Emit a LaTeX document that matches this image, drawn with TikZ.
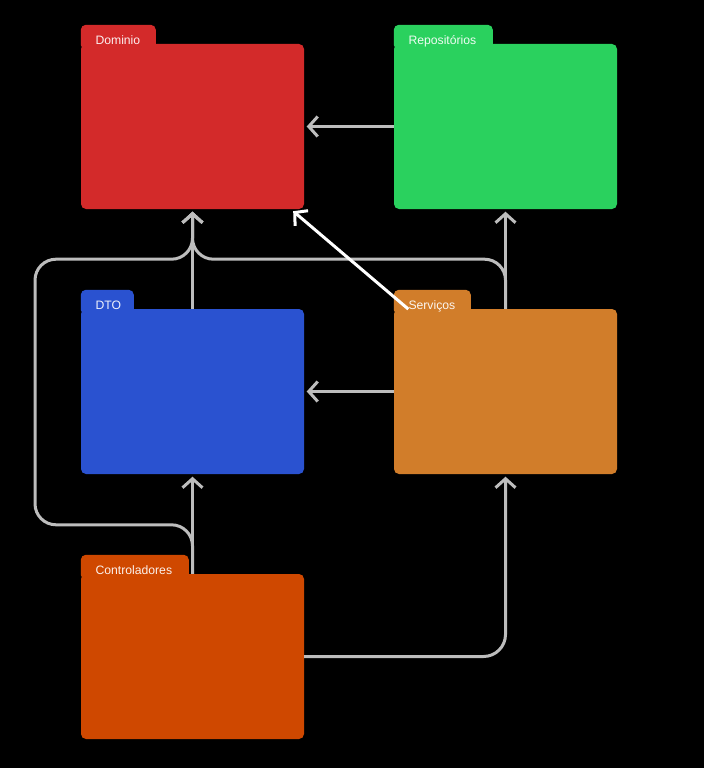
\documentclass[tikz,border=0pt]{standalone}
\usepackage{fontspec}
\setmainfont{Liberation Sans}
\usetikzlibrary{arrows.meta}
\definecolor{cdom}{HTML}{D32A2A}
\definecolor{crep}{HTML}{2AD15E}
\definecolor{cdto}{HTML}{2A52D0}
\definecolor{csrv}{HTML}{D17D2A}
\definecolor{cctl}{HTML}{CF4800}
\definecolor{cline}{HTML}{BDBDBD}
% folder tab above the body node #1, #2 wide, filled with #3
\newcommand{\foldertab}[3]{%
  \fill[#3,rounded corners=5pt]
    ([shift={(0,6)}]#1.north west) -- ([shift={(0,-19)}]#1.north west)
    -- ([shift={(#2,-19)}]#1.north west) -- ([shift={(#2,6)}]#1.north west) -- cycle;}
\begin{document}
\begin{tikzpicture}[x=1pt,y=-1pt,
  folder/.style={minimum width=223pt,minimum height=165pt,inner sep=0pt,rounded corners=5pt},
  lbl/.style={text=white,text opacity=0.92,font=\fontsize{12.2}{14}\selectfont,inner sep=0pt,anchor=base west},
  conn/.style={draw=cline,line width=3pt,-{Straight Barb[length=9pt,width=20pt]},shorten >=2.5pt},
  wconn/.style={draw=white,line width=3pt,-{Straight Barb[length=9pt,width=20pt]}}]
\fill[black] (0,0) rectangle (704,768);
\useasboundingbox (0,0) rectangle (704,768);

% folders
\node[folder,fill=cdom] (dom) at (192.5,126.5) {};
\node[folder,fill=crep] (rep) at (505.5,126.5) {};
\node[folder,fill=cdto] (dto) at (192.5,391.5) {};
\node[folder,fill=csrv] (srv) at (505.5,391.5) {};
\node[folder,fill=cctl] (ctl) at (192.5,656.5) {};
\foldertab{dom}{75}{cdom}
\foldertab{rep}{99}{crep}
\foldertab{dto}{53}{cdto}
\foldertab{srv}{77}{csrv}
\foldertab{ctl}{108}{cctl}
\node[lbl] (domlbl) at ([shift={(14.5,0.3)}]dom.north west) {Dominio};
\node[lbl] (replbl) at ([shift={(14.5,0.3)}]rep.north west) {Repositórios};
\node[lbl] (dtolbl) at ([shift={(14.5,0.3)}]dto.north west) {DTO};
\node[lbl] (srvlbl) at ([shift={(14.5,0.3)}]srv.north west) {Serviços};
\node[lbl] (ctllbl) at ([shift={(14.5,0.3)}]ctl.north west) {Controladores};

% routing points
\coordinate (jdom) at ([shift={(0,50)}]dom.south);
\coordinate (jctl) at ([shift={(0,-49)}]ctl.north);
\coordinate (lft) at (35,0);

% dependencies
\draw[conn] (rep.west) -- (dom.east);
\draw[conn] (srv.west) -- (dto.east);
\draw[conn] (dto.north) -- (dom.south);
\draw[conn] (srv.north) -- (rep.south);
\draw[conn,rounded corners=21pt] (srv.north) |- (jdom) -- (dom.south);
\draw[conn,rounded corners=21pt] (ctl.north) -- (jctl) -- (jctl -| lft) -- (jdom -| lft) -- (jdom) -- (dom.south);
\draw[conn] (ctl.north) -- (dto.south);
\draw[conn,rounded corners=22pt] (ctl.east) -| (srv.south);
\draw[wconn] (srvlbl.base west) -- ([shift={(-11,2)}]dom.south east);
\end{tikzpicture}
\end{document}
